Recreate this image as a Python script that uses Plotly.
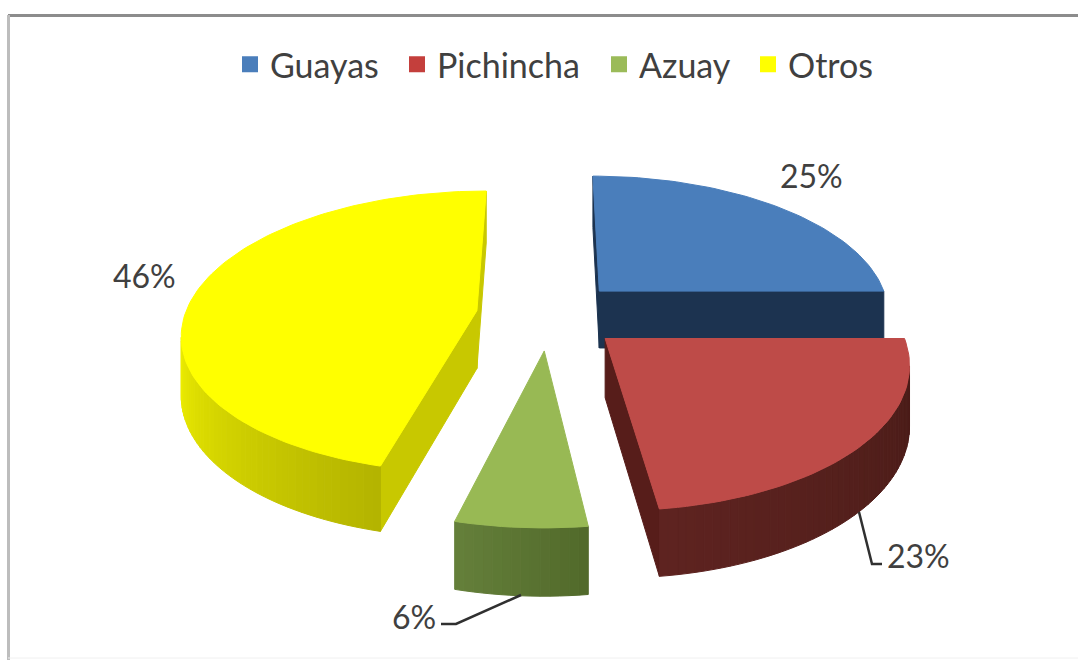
import math

import plotly.graph_objects as go

# ---------------------------------------------------
# Data
# ---------------------------------------------------
CATEGORIES = ["Guayas", "Pichincha", "Azuay", "Otros"]
VALUES = [25, 23, 6, 46]
LABELS = ["25%", "23%", "6%", "46%"]

TOP_COLORS = ["#4a7ebb", "#be4b48", "#98b954", "#ffff00"]
LEGEND_COLORS = ["#4a7ebb", "#c43f3c", "#9bbb59", "#ffff00"]
ARC_COLORS = [
    ("#1f3a5c", "#1f3a5c"),
    ("#4a1c18", "#5e2320"),
    ("#526a2b", "#647f3a"),
    ("#b4b400", "#ecec00"),
]
FACE_COLORS = ["#1c3350", "#571d1a", "#4f6529", "#c8c800"]

# ---------------------------------------------------
# Projection of the exploded, tilted pie
# ---------------------------------------------------
CX, CY = 549, 315
RADIUS = 292
EXPLODE = 73
TILT = 0.475
PERSPECTIVE = 0.00051
DEPTH = 58


def project(x, y, low=False):
    """World point on the pie plane to figure pixels."""
    s = 1 / (1 - PERSPECTIVE * y)
    px = CX + x * s
    py = CY + TILT * y * s
    if low:
        py += DEPTH + (s - 1) * 45
    return px, py


def mix(c1, c2, t):
    a = [int(c1[i : i + 2], 16) for i in (1, 3, 5)]
    b = [int(c2[i : i + 2], 16) for i in (1, 3, 5)]
    return "rgb({},{},{})".format(*[round(p + (q - p) * t) for p, q in zip(a, b)])


def polygon(points, color):
    return go.Scatter(
        x=[p[0] for p in points] + [points[0][0]],
        y=[p[1] for p in points] + [points[0][1]],
        mode="lines",
        fill="toself",
        fillcolor=color,
        line={"color": color, "width": 1},
        showlegend=False,
        hoverinfo="skip",
    )


def face_visible(apex, edge, inner):
    """A cut face shows if the slice top lies above its edge on screen."""
    ax, ay = project(*apex)
    bx, by = project(*edge)
    cx, cy = project(*inner)
    if bx == ax:
        return True
    return cy < ay + (by - ay) / (bx - ax) * (cx - ax)


def slice_traces(start, end, idx):
    mid = math.radians((start + end) / 2)
    ox = EXPLODE * math.sin(mid)
    oy = -EXPLODE * math.cos(mid)
    steps = max(int((end - start) / 1.5), 2)
    angles = [start + (end - start) * k / steps for k in range(steps + 1)]
    rim = [
        (
            ox + RADIUS * math.sin(math.radians(a)),
            oy - RADIUS * math.cos(math.radians(a)),
        )
        for a in angles
    ]

    traces = []
    # the two cut faces
    for end_pt in (rim[0], rim[-1]):
        if face_visible((ox, oy), end_pt, rim[steps // 2]):
            traces.append(
                polygon(
                    [
                        project(ox, oy),
                        project(*end_pt),
                        project(*end_pt, low=True),
                        project(ox, oy, low=True),
                    ],
                    FACE_COLORS[idx],
                )
            )
    # outer wall, front part only, split in bands to get the shading
    front = [k for k in range(steps) if project(*rim[k + 1])[0] < project(*rim[k])[0]]
    c1, c2 = ARC_COLORS[idx]
    for n, k in enumerate(front):
        traces.append(
            polygon(
                [
                    project(*rim[k]),
                    project(*rim[k + 1]),
                    project(*rim[k + 1], low=True),
                    project(*rim[k], low=True),
                ],
                mix(c1, c2, n / max(len(front) - 1, 1)),
            )
        )
    # top
    traces.append(
        polygon([project(ox, oy)] + [project(*p) for p in rim], TOP_COLORS[idx])
    )
    return traces


# ---------------------------------------------------
# Figure
# ---------------------------------------------------
total = sum(VALUES)
spans = []
angle = 0
for v in VALUES:
    spans.append((angle, angle + 360 * v / total))
    angle += 360 * v / total

fig = go.Figure()

# back to front
for i in [0, 3, 2, 1]:
    for tr in slice_traces(spans[i][0], spans[i][1], i):
        fig.add_trace(tr)

# one legend per entry, the gaps between entries are uneven
LEGEND_X = [230, 397, 599, 748]
legends = {}
for n, (name, color, lx) in enumerate(zip(CATEGORIES, LEGEND_COLORS, LEGEND_X)):
    key = "legend" if n == 0 else f"legend{n + 1}"
    fig.add_trace(
        go.Scatter(
            x=[None],
            y=[None],
            mode="markers",
            name=name,
            legend=key,
            showlegend=True,
            marker={"symbol": "square", "size": 17, "color": color},
        )
    )
    legends[key] = {
        "x": lx / 1078,
        "xanchor": "left",
        "y": 0.902,
        "yanchor": "middle",
        "font": {"family": "Lato", "size": 34, "color": "#404040"},
        "itemsizing": "trace",
        "bgcolor": "rgba(0,0,0,0)",
    }

LABEL_POS = [(811, 175), (918, 555), (414, 616), (144, 275)]
for text, (lx, ly) in zip(LABELS, LABEL_POS):
    fig.add_annotation(
        x=lx,
        y=ly,
        xref="x",
        yref="y",
        text=text,
        showarrow=False,
        font={"family": "Lato", "size": 32, "color": "#404040"},
    )

# leader lines
fig.add_shape(
    type="path",
    path="M 859 512 L 872 564 L 882 564",
    line={"color": "#303030", "width": 2.5},
)
fig.add_shape(
    type="path",
    path="M 521 595 L 456 624 L 441 624",
    line={"color": "#303030", "width": 2.5},
)

# frame
fig.add_shape(
    type="line", x0=8, x1=1078, y0=15.5, y1=15.5,
    line={"color": "#8c8c8c", "width": 3}, layer="below",
)
fig.add_shape(
    type="line", x0=8.5, x1=8.5, y0=15, y1=660,
    line={"color": "#bdbdbd", "width": 3}, layer="below",
)
fig.add_shape(
    type="line", x0=8, x1=1078, y0=658, y1=658,
    line={"color": "#f0f0f0", "width": 1}, layer="below",
)

fig.update_xaxes(visible=False, range=[0, 1078])
fig.update_yaxes(visible=False, range=[660, 0])
fig.update_layout(
    width=1078,
    height=660,
    margin={"l": 0, "r": 0, "t": 0, "b": 0},
    paper_bgcolor="white",
    plot_bgcolor="white",
    **legends,
)

fig.write_html(
    "out.html",
    config={"displayModeBar": False},
    post_script="document.body.style.margin = '0';",
)
